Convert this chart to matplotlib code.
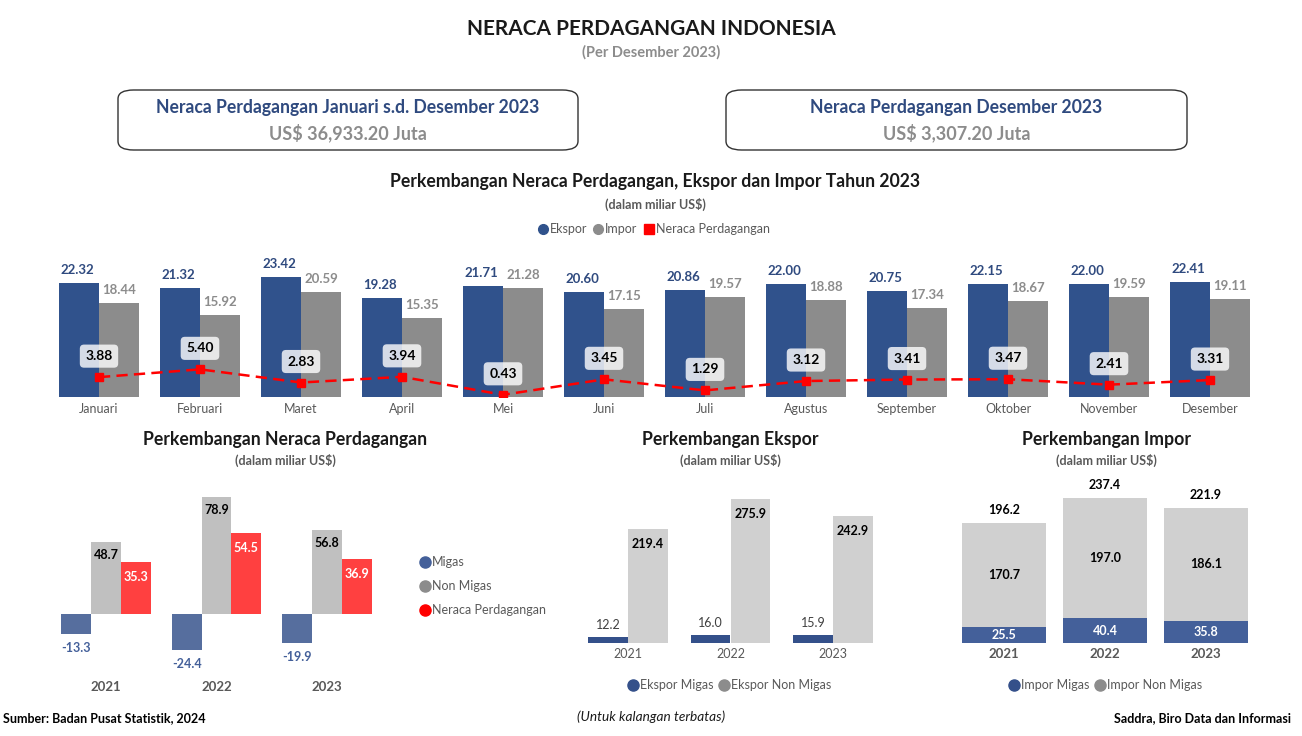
import matplotlib
matplotlib.use("Agg")
import matplotlib.pyplot as plt
from matplotlib.patches import FancyBboxPatch
from matplotlib.lines import Line2D
import numpy as np

plt.rcParams['font.family'] = ['Lato', 'DejaVu Sans']

### Data ----------------------------------------------------------------------
months = ["Januari", "Februari", "Maret", "April", "Mei", "Juni", "Juli",
          "Agustus", "September", "Oktober", "November", "Desember"]
ekspor = [22.32, 21.32, 23.42, 19.28, 21.71, 20.60, 20.86, 22.00, 20.75, 22.15, 22.00, 22.41]
impor = [18.44, 15.92, 20.59, 15.35, 21.28, 17.15, 19.57, 18.88, 17.34, 18.67, 19.59, 19.11]
neraca = [3.88, 5.40, 2.83, 3.94, 0.43, 3.45, 1.29, 3.12, 3.41, 3.47, 2.41, 3.31]

years = ["2021", "2022", "2023"]
nrc_migas = [-13.3, -24.4, -19.9]
nrc_nonmigas = [48.7, 78.9, 56.8]
nrc_total = [35.3, 54.5, 36.9]

eks_migas = [12.2, 16.0, 15.9]
eks_nonmigas = [219.4, 275.9, 242.9]

imp_migas = [25.5, 40.4, 35.8]
imp_nonmigas = [170.7, 197.0, 186.1]
imp_total = [196.2, 237.4, 221.9]

W, H = 1302, 736
fig = plt.figure(figsize=(W / 100, H / 100), dpi=100)

def px_axes(x0, y0, x1, y1):
    return fig.add_axes([x0 / W, 1 - y1 / H, (x1 - x0) / W, (y1 - y0) / H])

def ftext(x, y, s, **kw):
    kw.setdefault("ha", "center")
    kw.setdefault("va", "center")
    fig.text(x / W, 1 - y / H, s, **kw)

def clean(ax):
    for sp in ax.spines.values():
        sp.set_visible(False)
    ax.set_yticks([])
    ax.tick_params(axis="x", length=0)

BLUE_TXT = "#2F4A7F"
GREY_TXT = "#595959"

### Header --------------------------------------------------------------------
ftext(651, 29, "NERACA PERDAGANGAN INDONESIA", fontsize=15, fontweight="bold", color="#1a1a1a")
ftext(651, 52, "(Per Desember 2023)", fontsize=10.5, fontweight="bold", color="#8C8C8C")

for (x0, x1, t1, t2) in [(118, 578, "Neraca Perdagangan Januari s.d. Desember 2023", "US$ 36,933.20 Juta"),
                         (726, 1187, "Neraca Perdagangan Desember 2023", "US$ 3,307.20 Juta")]:
    box = FancyBboxPatch((x0 / W, 1 - 150 / H), (x1 - x0) / W, 60 / H,
                         boxstyle="round,pad=0,rounding_size=0.012",
                         transform=fig.transFigure, facecolor="white",
                         edgecolor="#333333", linewidth=1.0)
    fig.patches.append(box)
    ftext((x0 + x1) / 2, 108, t1, fontsize=12.7, fontweight="bold", color=BLUE_TXT)
    ftext((x0 + x1) / 2, 133, t2, fontsize=13, fontweight="bold", color="#8C8C8C")

### Main monthly chart --------------------------------------------------------
ftext(655, 182, "Perkembangan Neraca Perdagangan, Ekspor dan Impor Tahun 2023",
      fontsize=12.7, fontweight="bold", color="#1a1a1a")
ftext(655, 204, "(dalam miliar US$)", fontsize=9, fontweight="bold", color=GREY_TXT)

ax = px_axes(48.5, 250, 1260.5, 397)
x = np.arange(len(months))
bw = 0.396
ax.bar(x - bw / 2, ekspor, bw, color="#30528C")
ax.bar(x + bw / 2, impor, bw, color="#8C8C8C")
ax.plot(x, neraca, color="#FF0000", linestyle="--", linewidth=1.8, marker="s",
        markersize=6, dashes=(4.5, 2.5))
for i in range(len(months)):
    ax.annotate(f"{ekspor[i]:.2f}", (x[i] - bw / 2, ekspor[i]), xytext=(-2, 13),
                textcoords="offset pixels", ha="center", va="center",
                fontsize=9.5, fontweight="bold", color=BLUE_TXT)
    ax.annotate(f"{impor[i]:.2f}", (x[i] + bw / 2, impor[i]), xytext=(0, 13),
                textcoords="offset pixels", ha="center", va="center",
                fontsize=9.5, fontweight="bold", color="#8C8C8C")
    ax.annotate(f"{neraca[i]:.2f}", (x[i], neraca[i]), xytext=(0, 21),
                textcoords="offset pixels", ha="center", va="center",
                fontsize=10, fontweight="bold", color="black",
                bbox=dict(boxstyle="round,pad=0.4,rounding_size=0.3",
                          facecolor="white", alpha=0.8, edgecolor="none"))
ax.set_xlim(-0.5, len(months) - 0.5)
ax.set_ylim(0, 147 / 5.12)
ax.set_xticks(x)
ax.set_xticklabels(months, fontsize=9, color=GREY_TXT)
ax.tick_params(axis="x", pad=4)
clean(ax)

handles = [Line2D([], [], marker="o", linestyle="none", color="#30528C", markersize=7),
           Line2D([], [], marker="o", linestyle="none", color="#8C8C8C", markersize=7),
           Line2D([], [], marker="s", linestyle="none", color="#FF0000", markersize=7)]
fig.legend(handles, ["Ekspor", "Impor", "Neraca Perdagangan"], loc="center",
           bbox_to_anchor=(653 / W, 1 - 229 / H), ncol=3, frameon=False,
           fontsize=9, labelcolor=GREY_TXT, handletextpad=0.05,
           columnspacing=0.4, handlelength=1.0)

### Bottom left : Neraca per tahun --------------------------------------------
ftext(285, 440, "Perkembangan Neraca Perdagangan", fontsize=12.7, fontweight="bold", color="#1a1a1a")
ftext(285, 460, "(dalam miliar US$)", fontsize=9, fontweight="bold", color=GREY_TXT)

ax1 = px_axes(51, 480, 382, 676)
xy = np.arange(len(years))
bw1 = 0.27
ax1.bar(xy - bw1, nrc_migas, bw1, color="#566E9E")
ax1.bar(xy, nrc_nonmigas, bw1, color="#C0C0C0")
ax1.bar(xy + bw1, nrc_total, bw1, color="#FF4040")
for i in range(len(years)):
    ax1.annotate(f"{nrc_migas[i]:.1f}", (xy[i] - bw1, nrc_migas[i]), xytext=(0, -14),
                 textcoords="offset pixels", ha="center", va="center",
                 fontsize=9, fontweight="bold", color="#44609A")
    ax1.annotate(f"{nrc_nonmigas[i]:.1f}", (xy[i], nrc_nonmigas[i]), xytext=(0, -13),
                 textcoords="offset pixels", ha="center", va="center",
                 fontsize=9, fontweight="bold", color="black")
    ax1.annotate(f"{nrc_total[i]:.1f}", (xy[i] + bw1, nrc_total[i]), xytext=(0, -15),
                 textcoords="offset pixels", ha="center", va="center",
                 fontsize=9, fontweight="bold", color="white")
ax1.set_xlim(-0.5, 2.5)
ax1.set_ylim(-62 / 1.48, 134 / 1.48)
ax1.set_xticks(xy)
ax1.set_xticklabels(years, fontsize=9.5, fontweight="bold", color=GREY_TXT)
clean(ax1)

handles1 = [Line2D([], [], marker="o", linestyle="none", color=c, markersize=8)
            for c in ["#44609A", "#8C8C8C", "#FF0000"]]
fig.legend(handles1, ["Migas", "Non Migas", "Neraca Perdagangan"], loc="upper left",
           bbox_to_anchor=(408 / W, 1 - 545 / H), frameon=False, fontsize=9,
           labelcolor=GREY_TXT, handletextpad=0.05, handlelength=1.0, labelspacing=0.95)

### Bottom middle : Ekspor ----------------------------------------------------
ftext(730, 440, "Perkembangan Ekspor", fontsize=12.7, fontweight="bold", color="#1a1a1a")
ftext(730, 460, "(dalam miliar US$)", fontsize=9, fontweight="bold", color=GREY_TXT)

ax2 = px_axes(577, 480, 884, 643)
bw2 = 0.39
ax2.bar(xy - bw2 / 2, eks_migas, bw2, color="#34508A")
ax2.bar(xy + bw2 / 2, eks_nonmigas, bw2, color="#D0D0D0")
for i in range(len(years)):
    ax2.annotate(f"{eks_migas[i]:.1f}", (xy[i] - bw2 / 2, eks_migas[i]), xytext=(0, 12),
                 textcoords="offset pixels", ha="center", va="center",
                 fontsize=9, color="#404040")
    ax2.annotate(f"{eks_nonmigas[i]:.1f}", (xy[i] + bw2 / 2, eks_nonmigas[i]), xytext=(0, -15),
                 textcoords="offset pixels", ha="center", va="center",
                 fontsize=9, fontweight="bold", color="black")
ax2.set_xlim(-0.5, 2.5)
ax2.set_ylim(0, 163 / 0.521)
ax2.set_xticks(xy)
ax2.set_xticklabels(years, fontsize=9, color=GREY_TXT)
clean(ax2)

handles2 = [Line2D([], [], marker="o", linestyle="none", color=c, markersize=8)
            for c in ["#34508A", "#8C8C8C"]]
fig.legend(handles2, ["Ekspor Migas", "Ekspor Non Migas"], loc="center",
           bbox_to_anchor=(729 / W, 1 - 685 / H), ncol=2, frameon=False, fontsize=9,
           labelcolor=GREY_TXT, handletextpad=0.05, handlelength=1.0, columnspacing=0.4)

### Bottom right : Impor ------------------------------------------------------
ftext(1106, 440, "Perkembangan Impor", fontsize=12.7, fontweight="bold", color="#1a1a1a")
ftext(1106, 460, "(dalam miliar US$)", fontsize=9, fontweight="bold", color=GREY_TXT)

ax3 = px_axes(953.5, 470, 1256.5, 643)
bw3 = 0.83
ax3.bar(xy, imp_migas, bw3, color="#44609A")
ax3.bar(xy, imp_nonmigas, bw3, bottom=imp_migas, color="#D0D0D0")
for i in range(len(years)):
    ax3.text(xy[i], imp_migas[i] / 2, f"{imp_migas[i]:.1f}", ha="center", va="center",
             fontsize=9, fontweight="bold", color="white")
    ax3.text(xy[i], imp_migas[i] + imp_nonmigas[i] / 2, f"{imp_nonmigas[i]:.1f}",
             ha="center", va="center", fontsize=9, fontweight="bold", color="black")
    ax3.annotate(f"{imp_total[i]:.1f}", (xy[i], imp_migas[i] + imp_nonmigas[i]), xytext=(0, 13),
                 textcoords="offset pixels", ha="center", va="center",
                 fontsize=9, fontweight="bold", color="black")
ax3.set_xlim(-0.5, 2.5)
ax3.set_ylim(0, 173 / 0.61)
ax3.set_xticks(xy)
ax3.set_xticklabels(years, fontsize=9.5, fontweight="bold", color=GREY_TXT)
clean(ax3)

handles3 = [Line2D([], [], marker="o", linestyle="none", color=c, markersize=8)
            for c in ["#34508A", "#8C8C8C"]]
fig.legend(handles3, ["Impor Migas", "Impor Non Migas"], loc="center",
           bbox_to_anchor=(1105 / W, 1 - 685 / H), ncol=2, frameon=False, fontsize=9,
           labelcolor=GREY_TXT, handletextpad=0.05, handlelength=1.0, columnspacing=0.4)

### Footer --------------------------------------------------------------------
ftext(3, 718, "Sumber: Badan Pusat Statistik, 2024", ha="left", fontsize=9, fontweight="bold", color="black")
ftext(651, 717, "(Untuk kalangan terbatas)", fontsize=9.8, style="italic", color="#1a1a1a")
ftext(1291, 718, "Saddra, Biro Data dan Informasi", ha="right", fontsize=9, fontweight="bold", color="black")

fig.savefig("out.png", dpi=100)
